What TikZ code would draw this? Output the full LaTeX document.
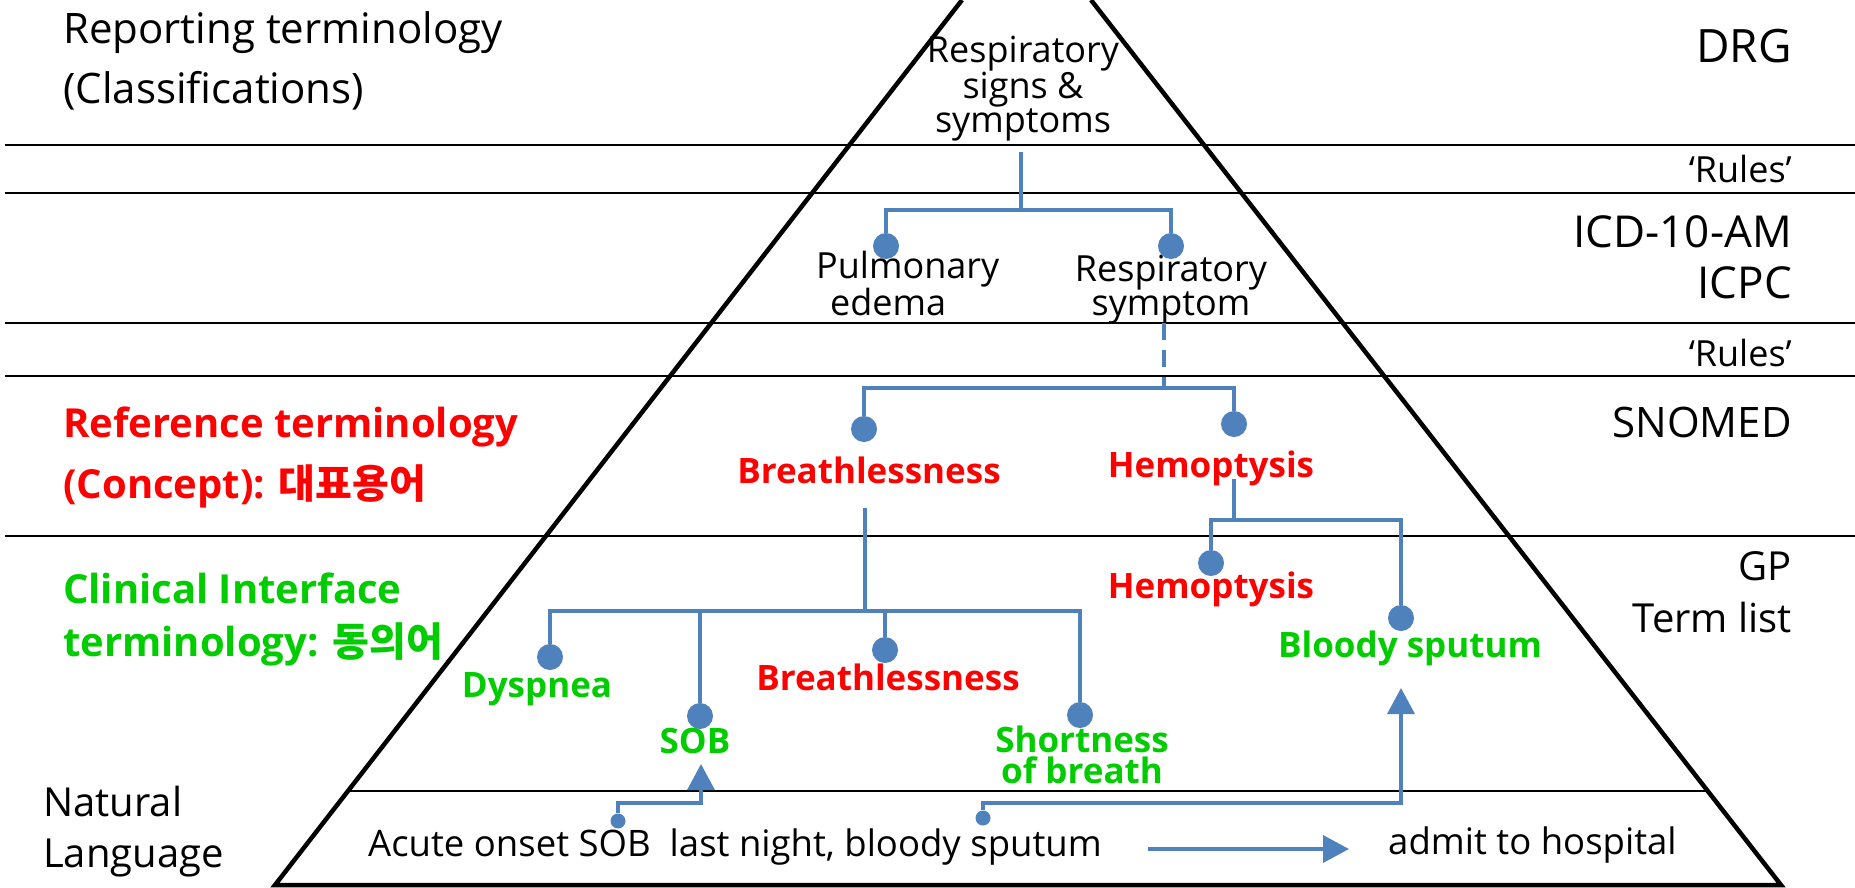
\documentclass[tikz,border=0pt]{standalone}
\usepackage{fontspec}
\setmainfont{Open Sans}
\newfontfamily\kr{Noto Sans CJK KR}
\usetikzlibrary{arrows.meta}
\definecolor{linkblue}{HTML}{4F81BD}
\definecolor{refred}{HTML}{FF0000}
\definecolor{cigreen}{HTML}{00CC00}
\newcommand\setfs[2]{\fontsize{#1}{#2}\selectfont}
\tikzset{
  band/.style={line width=2.2pt, black},
  tri/.style={line width=4.5pt, black, line join=miter},
  conn/.style={line width=3.5pt, linkblue},
  arrowc/.style={conn, -{Triangle[width=27pt,length=26pt]}},
  dot/.style={circle, fill=linkblue, inner sep=0pt, minimum size=26pt},
  sdot/.style={circle, fill=linkblue, inner sep=0pt, minimum size=15pt},
  lbl/.style={inner sep=0pt, text=black},
  redterm/.style={inner sep=0pt, text=refred, font=\bfseries\setfs{35}{31}, anchor=base},
  greenterm/.style={inner sep=0pt, text=cigreen, font=\bfseries\setfs{35}{31}, anchor=base},
  rightlbl/.style={lbl, anchor=base east, align=right},
}
\begin{document}
\begin{tikzpicture}[x=1pt,y=-1pt]
\useasboundingbox (0,0) rectangle (1855,887);

% level boundaries
\foreach \yy in {145,193,323,376,536} \draw[band] (5,\yy) -- (1855,\yy);
\draw[band] (348,791) -- (1708,791);
% the pyramid
\draw[tri] (962,0) -- (275,885) -- (1781,885) -- (1091,0);

% left column (multi-line nodes sit on the baseline of their last line)
\node[lbl, anchor=base west, align=left, font=\setfs{42}{60}] (rep) at (63,103)
  {Reporting terminology\\(Classifications)};
\node[lbl, text=refred, anchor=base west, align=left, font=\bfseries\setfs{40}{61}] (refterm) at (63,498)
  {Reference terminology\\(Concept): {\kr 대표용어}};
\node[lbl, text=cigreen, anchor=base west, align=left, font=\bfseries\setfs{40}{53}] (clin) at (63,656)
  {Clinical Interface\\terminology: {\kr 동의어}};
\node[lbl, anchor=base west, align=left, font=\setfs{40}{51}] (nat) at (43,867)
  {Natural\\Language};

% right column
\node[rightlbl, font=\setfs{46}{50}] (drg) at (1792,62) {DRG};
\node[rightlbl, font=\setfs{36}{40}] (rulesA) at (1792,182) {‘Rules’};
\node[rightlbl, font=\setfs{44}{51}] (icd) at (1792,298) {ICD-10-AM\\ICPC};
\node[rightlbl, font=\setfs{36}{40}] (rulesB) at (1792,366) {‘Rules’};
\node[rightlbl, font=\setfs{42}{50}] (snomed) at (1792,437) {SNOMED};
\node[rightlbl, font=\setfs{40}{52}] (gp) at (1792,632) {GP\\Term list};

% classification terms
\node[lbl, anchor=base, align=center, font=\setfs{36}{33.5}] (rss) at (1023,132)
  {Respiratory\\signs \&\\symptoms};
\node[lbl, anchor=base west, align=left, font=\setfs{36}{30}] (pe) at (816,315)
  {Pulmonary\\\hspace*{14pt}edema};
\node[lbl, anchor=base, align=center, font=\setfs{36}{30}] (rs) at (1171,315)
  {Respiratory\\symptom};

% reference and interface terms
\node[redterm] (br1) at (869,483) {Breathlessness};
\node[redterm] (he1) at (1211,477) {Hemoptysis};
\node[redterm] (he2) at (1211,598) {Hemoptysis};
\node[redterm] (br2) at (888,690) {Breathlessness};
\node[greenterm] (dy) at (537,697) {Dyspnea};
\node[greenterm] (sob) at (695,753) {SOB};
\node[greenterm, align=center] (sofb) at (1082,783) {Shortness\\of breath};
\node[greenterm] (bs) at (1410,657) {Bloody sputum};

% natural language
\node[lbl, anchor=base west, font=\setfs{36.5}{40}] (acute) at (368,856)
  {Acute onset SOB\ \ last night, bloody sputum};
\node[lbl, anchor=base west, font=\setfs{36.5}{40}] (admit) at (1388,854)
  {admit to hospital};

% junction points and free ends
\coordinate (rssB) at (1021,152);
\coordinate (jTop) at (1021,210);
\coordinate (rsB) at (1164,323);
\coordinate (jSno) at (1164,388);
\coordinate (brB) at (865,508);
\coordinate (jGP) at (865,611);
\coordinate (heB) at (1234,479);
\coordinate (jHe) at (1234,520);
\coordinate (kA) at (701,803);
\coordinate (tipA) at (701,764);
\coordinate (kB) at (1401,803);
\coordinate (tipB) at (1401,688);
\coordinate (aS) at (1148,849);
\coordinate (aE) at (1349,849);

% dots
\node[dot] (dPE) at (886,246) {};
\node[dot] (dRS) at (1171,246) {};
\node[dot] (dBr) at (864,429) {};
\node[dot] (dHe) at (1234,424) {};
\node[dot] (dDy) at (550,657) {};
\node[dot] (dSOB) at (700,716) {};
\node[dot] (dBr2) at (885,650) {};
\node[dot] (dSh) at (1080,715) {};
\node[dot] (dHe2) at (1211,563) {};
\node[dot] (dBS) at (1401,618) {};
\node[sdot] (sA) at (618,821) {};
\node[sdot] (sB) at (983,818) {};

% tree connectors
\draw[conn] (rssB) -- (jTop);
\draw[conn] (dPE) |- (jTop) -| (dRS);
\draw[conn, dash pattern=on 17pt off 10pt] (rsB) -- (jSno);
\draw[conn] (dBr) |- (jSno) -| (dHe);
\draw[conn] (brB) -- (jGP);
\draw[conn] (dDy) |- (jGP) -| (dSh);
\draw[conn] (dSOB) -- (dSOB |- jGP);
\draw[conn] (dBr2) -- (dBr2 |- jGP);
\draw[conn] (heB) -- (jHe);
\draw[conn] (dHe2) |- (jHe) -| (dBS);

% mappings from the free text
\draw[arrowc] (sA) |- (kA) -- (tipA);
\draw[arrowc] (sB) |- (kB) -- (tipB);
\draw[arrowc] (aS) -- (aE);
\end{tikzpicture}
\end{document}
